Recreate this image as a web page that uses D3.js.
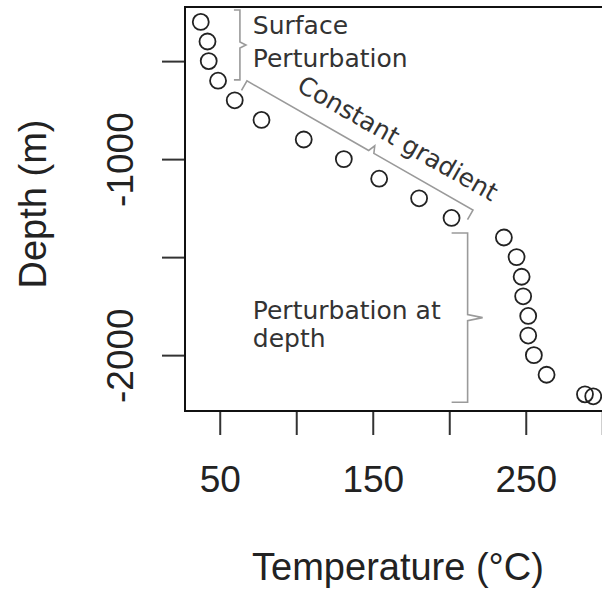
<!DOCTYPE html>
<html>
<head>
<meta charset="utf-8">
<script src="https://cdn.jsdelivr.net/npm/d3@7"></script>
<style>
  body { margin: 0; background: #fff; }
  svg { display: block; }
</style>
</head>
<body>
<div id="chart"></div>
<script>
// temperature profile readings (°C) and depths (m)
var temperature = [37.6, 42, 42.8, 48.9, 59.8, 77.3, 104.9, 131.1, 154.2, 180.3, 201.5,
  235.7, 244, 247.3, 248.3, 251.6, 251.6, 255.3, 263.6, 288.7, 294.1];
var depth = [-300, -400, -500, -600, -700, -800, -900, -1000, -1100, -1200, -1300,
  -1400, -1500, -1600, -1700, -1800, -1900, -2000, -2100, -2200, -2210];

var xTicks = [50, 100, 150, 200, 250, 300];
var xLabels = [50, 150, 250];
var yTicks = [-500, -1000, -1500, -2000];
var yLabels = [-1000, -2000];

// annotation braces: [temp1, depth1, temp2, depth2]
var braceSurface = [63.2, -239, 63.2, -596];
var braceGradient = [67.8, -601, 215.5, -1260];
var braceDeep = [212, -1377, 212, -2240];

var data = temperature.map(function (t, i) {
  return {temp: t, depth: depth[i]};
});

var width = 602, height = 594;
var box = {left: 185, top: 7, right: 609, bottom: 411};

var x = d3.scaleLinear()
  .domain([27.3, 304.4])
  .range([box.left, box.right]);

var y = d3.scaleLinear()
  .domain([-224, -2285])
  .range([box.top, box.bottom]);

var svg = d3.select("#chart").append("svg")
  .attr("width", width)
  .attr("height", height);

var xAxis = d3.axisBottom(x)
  .tickValues(xTicks)
  .tickSize(24)
  .tickPadding(31)
  .tickFormat(function (d) { return xLabels.indexOf(d) >= 0 ? d : ""; });

var yAxis = d3.axisLeft(y)
  .tickValues(yTicks)
  .tickSize(23)
  .tickFormat(function (d) { return yLabels.indexOf(d) >= 0 ? d : ""; });

var gx = svg.append("g")
  .attr("transform", "translate(0," + box.bottom + ")")
  .call(xAxis);

var gy = svg.append("g")
  .attr("transform", "translate(" + box.left + ",0)")
  .call(yAxis);

[gx, gy].forEach(function (g) {
  g.select(".domain").remove();
  g.selectAll(".tick line").attr("stroke", "#333").attr("stroke-width", 2);
  g.selectAll(".tick text")
    .attr("fill", "#222")
    .style("font-family", "'Liberation Sans', Arial, sans-serif")
    .style("font-size", "37px");
});

gy.selectAll(".tick text")
  .attr("transform", "rotate(-90)")
  .attr("x", 0)
  .attr("y", -52)
  .attr("dy", 0)
  .attr("text-anchor", "middle");

// plot box
svg.append("rect")
  .attr("x", box.left)
  .attr("y", box.top)
  .attr("width", box.right - box.left)
  .attr("height", box.bottom - box.top)
  .attr("fill", "none")
  .attr("stroke", "#111")
  .attr("stroke-width", 2);

// points
svg.append("g").selectAll("circle")
  .data(data)
  .enter().append("circle")
  .attr("cx", function (d) { return x(d.temp); })
  .attr("cy", function (d) { return y(d.depth); })
  .attr("r", 8)
  .attr("fill", "none")
  .attr("stroke", "#222")
  .attr("stroke-width", 1.8);

// brace: straight line with end hooks and a small middle tip
function bracePath(b, hook, tip, frac, flip) {
  var x1 = x(b[0]), y1 = y(b[1]), x2 = x(b[2]), y2 = y(b[3]);
  var len = Math.sqrt((x2 - x1) * (x2 - x1) + (y2 - y1) * (y2 - y1));
  var ux = (x2 - x1) / len, uy = (y2 - y1) / len;
  var nx = -uy * flip, ny = ux * flip;  // points toward the label
  var mx = x1 + (x2 - x1) * frac, my = y1 + (y2 - y1) * frac;
  var p = d3.path();
  p.moveTo(x1 - nx * hook, y1 - ny * hook);
  p.lineTo(x1, y1);
  p.lineTo(mx - ux * 3, my - uy * 3);
  p.lineTo(mx + nx * tip, my + ny * tip);
  p.lineTo(mx + ux * 3, my + uy * 3);
  p.lineTo(x2, y2);
  p.lineTo(x2 - nx * hook, y2 - ny * hook);
  return p.toString();
}

var notes = svg.append("g")
  .attr("fill", "none")
  .attr("stroke", "#9a9a9a")
  .attr("stroke-width", 1.6);

notes.append("path").attr("d", bracePath(braceSurface, 6, 6, 0.5, -1));
notes.append("path").attr("d", bracePath(braceGradient, 11, 7, 0.55, -1));
notes.append("path").attr("d", bracePath(braceDeep, 16, 15, 0.5, -1));

var labelFont = "'DejaVu Sans', Verdana, sans-serif";

var txt = svg.append("g")
  .attr("fill", "#333")
  .style("font-family", labelFont)
  .style("font-size", "25px");

txt.append("text").attr("x", x(71.6)).attr("y", y(-363)).text("Surface");
txt.append("text").attr("x", x(71.6)).attr("y", y(-531)).text("Perturbation");

var gx0 = x(163.6), gy0 = y(-933);
txt.append("text")
  .attr("x", gx0).attr("y", gy0)
  .attr("text-anchor", "middle")
  .attr("transform", "rotate(29.7," + gx0 + "," + gy0 + ")")
  .text("Constant gradient");

txt.append("text").attr("x", x(71.6)).attr("y", y(-1814)).text("Perturbation at");
txt.append("text").attr("x", x(71.6)).attr("y", y(-1960)).text("depth");

// axis titles
svg.append("text")
  .attr("x", 398)
  .attr("y", 580)
  .attr("text-anchor", "middle")
  .attr("fill", "#222")
  .style("font-family", "'Liberation Sans', Arial, sans-serif")
  .style("font-size", "38px")
  .text("Temperature (°C)");

svg.append("text")
  .attr("transform", "translate(46," + ((box.top + box.bottom) / 2 - 5) + ") rotate(-90)")
  .attr("text-anchor", "middle")
  .attr("fill", "#222")
  .style("font-family", "'Liberation Sans', Arial, sans-serif")
  .style("font-size", "38px")
  .text("Depth (m)");
</script>
</body>
</html>
